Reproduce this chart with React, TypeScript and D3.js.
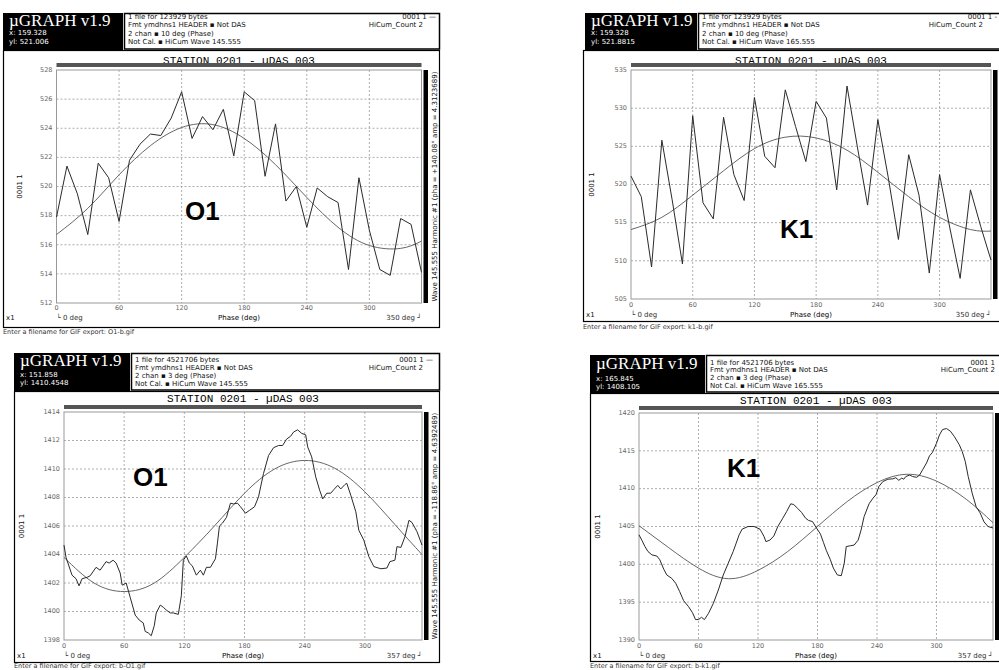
import React from "react";
import * as d3 from "d3";

// ---------------- Data ----------------
const phaseTop = [0, 10, 20, 30, 40, 50, 60, 70, 80, 90, 100, 110, 120, 130, 140, 150, 160, 170, 180, 190, 200, 210, 220, 230, 240, 250, 260, 270, 280, 290, 300, 310, 320, 330, 340, 350];
const o1TopValues = [517.9, 521.4, 519.5, 516.7, 521.6, 520.6, 517.6, 521.8, 522.9, 523.6, 523.5, 524.7, 526.5, 523.3, 524.8, 523.9, 525.3, 522.1, 526.5, 525.9, 520.7, 524.3, 519.0, 520.0, 517.2, 519.9, 519.3, 518.9, 514.3, 520.6, 517.0, 514.3, 513.9, 517.8, 517.4, 514.1];
const k1TopValues = [521.1, 518.4, 509.2, 525.8, 518.0, 509.6, 529.0, 517.6, 515.5, 528.8, 521.3, 517.9, 531.4, 523.7, 522.2, 532.4, 527.6, 523.0, 530.9, 528.7, 519.3, 532.9, 525.0, 517.3, 528.5, 521.0, 512.8, 523.9, 518.6, 508.4, 521.3, 514.3, 507.7, 519.3, 514.5, 510.1];

const fitPhaseTop = [0, 30, 60, 90, 120, 150, 180, 210, 240, 270, 300, 330, 350];
const o1TopFit = [516.7, 518.5, 520.8, 522.8, 524.05, 524.25, 523.3, 521.5, 519.25, 517.2, 515.95, 515.75, 516.25];
const k1TopFit = [514.1, 515.7, 518.6, 521.8, 524.7, 526.2, 526.1, 524.5, 521.6, 518.4, 515.7, 514.1, 513.9];

const o1BottomPhase = [0, 2, 8, 12, 15, 18, 23, 26, 32, 36, 42, 45, 49, 52, 56, 58, 62, 66, 71, 75, 79, 81, 84, 87, 90, 92, 96, 99, 102, 106, 109, 114, 117, 119, 122, 125, 128, 132, 136, 139, 142, 146, 151, 153, 155, 158, 162, 166, 169, 173, 176, 181, 185, 190, 194, 199, 204, 209, 214, 218, 222, 226, 229, 233, 237, 241, 243, 247, 251, 255, 258, 262, 266, 269, 273, 276, 280, 282, 286, 291, 294, 299, 304, 309, 316, 322, 325, 330, 332, 336, 340, 344, 347, 352, 357];
const o1BottomValues = [1404.66, 1403.8, 1402.55, 1402.3, 1401.8, 1402.3, 1402.4, 1402.5, 1403.1, 1402.9, 1403.5, 1403.4, 1403.6, 1403.4, 1402.7, 1401.85, 1402.0, 1401.0, 1399.75, 1399.4, 1399.2, 1398.6, 1398.5, 1398.3, 1399.0, 1399.9, 1400.45, 1400.3, 1400.1, 1399.9, 1399.9, 1399.8, 1401.1, 1403.6, 1403.9, 1403.4, 1403.2, 1402.55, 1402.9, 1402.55, 1403.1, 1403.1, 1403.7, 1404.8, 1406.0, 1406.2, 1406.6, 1407.6, 1407.55, 1407.6, 1407.35, 1406.9, 1407.1, 1407.35, 1408.05, 1409.7, 1410.95, 1411.5, 1411.65, 1411.65, 1412.1, 1412.3, 1412.6, 1412.75, 1412.5, 1412.4, 1411.55, 1410.85, 1409.45, 1408.5, 1407.9, 1408.3, 1408.3, 1408.55, 1408.85, 1408.6, 1408.9, 1409.0, 1408.15, 1407.0, 1405.7, 1405.0, 1403.85, 1403.15, 1403.0, 1403.05, 1403.5, 1403.6, 1404.55, 1404.5, 1405.25, 1406.4, 1406.25, 1405.6, 1404.66];

const k1BottomPhase = [0, 3, 6, 9, 13, 18, 21, 25, 28, 33, 37, 41, 45, 50, 54, 57, 60, 63, 66, 70, 75, 80, 85, 90, 95, 98, 101, 104, 110, 116, 122, 126, 128, 132, 136, 140, 145, 149, 153, 156, 160, 164, 168, 171, 175, 179, 183, 186, 189, 193, 196, 200, 204, 207, 209, 213, 217, 221, 224, 227, 232, 236, 239, 242, 246, 251, 256, 259, 262, 265, 267, 269, 273, 276, 280, 283, 286, 290, 293, 296, 300, 303, 306, 310, 314, 318, 323, 326, 329, 332, 336, 340, 344, 348, 352, 357];
const k1BottomValues = [1403.9, 1403.15, 1402.35, 1401.7, 1401.25, 1401.1, 1400.6, 1399.35, 1398.6, 1398.15, 1397.5, 1396.4, 1395.2, 1394.4, 1393.6, 1392.7, 1392.7, 1393.0, 1392.7, 1393.5, 1394.85, 1396.6, 1398.6, 1400.15, 1401.7, 1402.8, 1403.9, 1404.65, 1405.0, 1405.0, 1404.65, 1403.7, 1403.0, 1403.2, 1403.75, 1405.0, 1406.1, 1407.0, 1408.0, 1407.9, 1407.4, 1406.85, 1406.1, 1405.8, 1405.65, 1404.8, 1404.0, 1402.9, 1401.8, 1400.6, 1399.5, 1398.6, 1398.5, 1400.15, 1402.35, 1402.45, 1402.55, 1403.2, 1404.55, 1406.3, 1408.0, 1408.75, 1409.2, 1410.3, 1410.95, 1411.25, 1411.3, 1411.45, 1411.1, 1411.4, 1411.25, 1411.6, 1411.8, 1411.6, 1411.5, 1411.8, 1412.5, 1413.4, 1414.35, 1414.8, 1416.0, 1417.1, 1417.8, 1417.95, 1417.6, 1416.9, 1415.8, 1414.9, 1413.6, 1411.6, 1409.4, 1407.6, 1406.8, 1405.6, 1405.0, 1404.8];

const fitPhaseBottom = [0, 30, 60, 90, 120, 150, 180, 210, 240, 270, 300, 330, 357];
const o1BottomFit = [1403.8, 1402.0, 1401.4, 1402.0, 1403.8, 1406.0, 1408.3, 1410.0, 1410.6, 1410.05, 1408.4, 1406.1, 1404.0];
const k1BottomFit = [1405.1, 1402.2, 1399.5, 1398.1, 1399.2, 1401.7, 1405.0, 1408.3, 1410.8, 1411.9, 1411.0, 1408.6, 1405.5];

const xTicks = [0, 60, 120, 180, 240, 300];
const yTicksO1Top = [512, 514, 516, 518, 520, 522, 524, 526, 528];
const yTicksK1Top = [505, 510, 515, 520, 525, 530, 535];
const yTicksO1Bottom = [1398, 1400, 1402, 1404, 1406, 1408, 1410, 1412, 1414];
const yTicksK1Bottom = [1390, 1395, 1400, 1405, 1410, 1415, 1420];

const SMALL = "'DejaVu Sans', sans-serif";
const MONO = "'Liberation Mono', 'DejaVu Sans Mono', monospace";

type PanelProps = {
  frameL: number; frameR: number; headT: number; headB: number; blackL: number; blackR: number; frameB: number;
  plotL: number; plotR: number; plotT: number; plotB: number;
  xEnd: number; yTicks: number[];
  phase: number[]; values: number[]; fitPhase: number[]; fit: number[];
  gBase: number; xBase: number; ylBase: number; infoBase: number; infoStep: number;
  xReadout: string; ylReadout: string; info: string[];
  right1: string; right1X: number; right2X: number;
  titleY: number; tickY: number; rowY: number; footerY: number; footer: string;
  big: string; bigX: number; bigY: number; yLabelX: number;
  harmonic?: string; harmonicX?: number;
};

function Panel(p: PanelProps) {
  const x = d3.scaleLinear().domain([0, p.xEnd]).range([p.plotL, p.plotR]);
  const y = d3.scaleLinear().domain([p.yTicks[0], p.yTicks[p.yTicks.length - 1]]).range([p.plotB, p.plotT]);
  const pts: [number, number][] = p.phase.map((d, i) => [d, p.values[i]]);
  const fitPts: [number, number][] = p.fitPhase.map((d, i) => [d, p.fit[i]]);
  const line = d3.line<[number, number]>().x((d) => x(d[0])).y((d) => y(d[1]));
  const fitLine = d3.line<[number, number]>().x((d) => x(d[0])).y((d) => y(d[1])).curve(d3.curveNatural);
  const cx = (p.plotL + p.plotR) / 2;
  const cy = (p.plotT + p.plotB) / 2;
  return (
    <g>
      {/* header */}
      <rect x={p.blackL} y={p.headT} width={p.blackR - p.blackL} height={p.headB - p.headT} fill="#000" />
      <rect x={p.blackR + 1.5} y={p.headT + 0.5} width={p.frameR - p.blackR - 2} height={p.headB - p.headT - 1.5} fill="#fff" stroke="#000" strokeWidth={1.5} />
      <text x={p.blackL + 6} y={p.gBase} fill="#fff" fontFamily="'Liberation Serif', 'DejaVu Serif', serif" fontSize={17}>µGRAPH v1.9</text>
      <text x={p.blackL + 6} y={p.xBase} fill="#fff" fontFamily={SMALL} fontSize={7}>{p.xReadout}</text>
      <text x={p.blackL + 6} y={p.ylBase} fill="#fff" fontFamily={SMALL} fontSize={7}>{p.ylReadout}</text>
      {p.info.map((t, i) => (
        <text key={i} x={p.blackR + 5} y={p.infoBase + i * p.infoStep} fontFamily={SMALL} fontSize={7} fill="#111">{t}</text>
      ))}
      <text x={p.right1X} y={p.infoBase} textAnchor="end" fontFamily={SMALL} fontSize={7} fill="#111">{p.right1}</text>
      <text x={p.right2X} y={p.infoBase + p.infoStep} textAnchor="end" fontFamily={SMALL} fontSize={7} fill="#111">HiCum_Count 2</text>

      {/* main frame */}
      <rect x={p.frameL + 0.5} y={p.headB + 0.5} width={p.frameR - p.frameL - 1} height={p.frameB - p.headB - 1} fill="#fff" stroke="#000" strokeWidth={1.2} />
      <text x={cx} y={p.titleY} textAnchor="middle" dominantBaseline="middle" fontFamily={MONO} fontSize={11} fill="#000">STATION 0201 - µDAS 003</text>
      <rect x={p.plotL} y={p.plotT - 7} width={p.plotR - p.plotL} height={4} fill="#555" />

      {/* grid */}
      {xTicks.filter((t) => t > 0).map((t) => (
        <line key={"gx" + t} x1={x(t)} x2={x(t)} y1={p.plotT} y2={p.plotB} stroke="#999" strokeWidth={0.8} strokeDasharray="2,2" />
      ))}
      {p.yTicks.slice(1, -1).map((t) => (
        <line key={"gy" + t} x1={p.plotL} x2={p.plotR} y1={y(t)} y2={y(t)} stroke="#999" strokeWidth={0.8} strokeDasharray="2,2" />
      ))}
      <rect x={p.plotL} y={p.plotT} width={p.plotR - p.plotL} height={p.plotB - p.plotT} fill="none" stroke="#999" strokeWidth={1} />

      {/* tick labels */}
      {p.yTicks.map((t) => (
        <text key={"ty" + t} x={p.plotL - 4} y={y(t)} textAnchor="end" dominantBaseline="middle" fontFamily={SMALL} fontSize={6.5} fill="#666">{t}</text>
      ))}
      {xTicks.map((t) => (
        <text key={"tx" + t} x={x(t)} y={p.tickY} textAnchor="middle" dominantBaseline="middle" fontFamily={SMALL} fontSize={6.5} fill="#666">{t}</text>
      ))}

      {/* series */}
      <path d={fitLine(fitPts) || ""} fill="none" stroke="#555" strokeWidth={0.9} />
      <path d={line(pts) || ""} fill="none" stroke="#2a2a2a" strokeWidth={1} strokeLinejoin="round" />

      {/* right black bar */}
      <rect x={p.plotR + 2} y={p.plotT} width={4.5} height={p.plotB - p.plotT} fill="#000" />
      {p.harmonic && (
        <text transform={`translate(${p.harmonicX},${cy}) rotate(-90)`} textAnchor="middle" dominantBaseline="middle" fontFamily={SMALL} fontSize={7} fill="#111">{p.harmonic}</text>
      )}

      {/* axis labels */}
      <text transform={`translate(${p.yLabelX},${cy}) rotate(-90)`} textAnchor="middle" dominantBaseline="middle" fontFamily={SMALL} fontSize={7} fill="#111">0001 1</text>
      <text x={p.frameL + 3} y={p.rowY} dominantBaseline="middle" fontFamily={SMALL} fontSize={7} fill="#111">x1</text>
      <text x={p.plotL} y={p.rowY} dominantBaseline="middle" fontFamily={SMALL} fontSize={7} fill="#333">└ 0 deg</text>
      <text x={cx} y={p.rowY} textAnchor="middle" dominantBaseline="middle" fontFamily={SMALL} fontSize={7} fill="#000">Phase (deg)</text>
      <text x={p.plotR} y={p.rowY} textAnchor="end" dominantBaseline="middle" fontFamily={SMALL} fontSize={7} fill="#333">{`${p.xEnd} deg ┘`}</text>

      {/* big label */}
      <text x={p.bigX} y={p.bigY} fontFamily="'Liberation Sans', Arial, sans-serif" fontWeight="bold" fontSize={26} fill="#000">{p.big}</text>

      {/* footer */}
      <text x={p.frameL} y={p.footerY} fontFamily={SMALL} fontSize={6.5} fill="#333">{p.footer}</text>
    </g>
  );
}

export default function App() {
  return (
    <svg width={999} height={670} style={{ position: "absolute", left: 0, top: 0, background: "#fff" }}>
      <rect x={0} y={0} width={999} height={670} fill="#fff" />
      <Panel
        frameL={3} frameR={440} headT={13} headB={50} blackL={3} blackR={123} frameB={328}
        plotL={56.5} plotR={421.5} plotT={70} plotB={303}
        xEnd={350} yTicks={yTicksO1Top}
        phase={phaseTop} values={o1TopValues} fitPhase={fitPhaseTop} fit={o1TopFit}
        gBase={25.5} xBase={35} ylBase={43.5} infoBase={19.3} infoStep={8.1}
        xReadout="x: 159.328" ylReadout="yl: 521.006"
        info={["1 file for 123929 bytes", "Fmt ymdhns1 HEADER ▪ Not DAS", "2 chan ▪ 10 deg (Phase)", "Not Cal. ▪ HiCum Wave 145.555"]}
        right1="0001 1 —" right1X={436} right2X={423}
        titleY={61} tickY={308} rowY={318} footerY={334} footer="Enter a filename for GIF export: O1-b.gif"
        big="O1" bigX={185} bigY={220} yLabelX={20}
        harmonic="Wave 145.555 Harmonic #1 (pha = +140.08° amp = 4.3123689)" harmonicX={435}
      />
      <Panel
        frameL={583} frameR={1012} headT={13} headB={50} blackL={585} blackR={697} frameB={322}
        plotL={631} plotR={991} plotT={70} plotB={299}
        xEnd={350} yTicks={yTicksK1Top}
        phase={phaseTop} values={k1TopValues} fitPhase={fitPhaseTop} fit={k1TopFit}
        gBase={25.5} xBase={35} ylBase={43.5} infoBase={19.3} infoStep={8.1}
        xReadout="x: 159.328" ylReadout="yl: 521.8815"
        info={["1 file for 123929 bytes", "Fmt ymdhns1 HEADER ▪ Not DAS", "2 chan ▪ 10 deg (Phase)", "Not Cal. ▪ HiCum Wave 165.555"]}
        right1="0001 1 -" right1X={997} right2X={983}
        titleY={61} tickY={305} rowY={315} footerY={329} footer="Enter a filename for GIF export: k1-b.gif"
        big="K1" bigX={780} bigY={238} yLabelX={592}
      />
      <Panel
        frameL={14} frameR={440} headT={353} headB={391} blackL={14} blackR={130} frameB={663}
        plotL={64} plotR={422} plotT={412} plotB={640}
        xEnd={357} yTicks={yTicksO1Bottom}
        phase={o1BottomPhase} values={o1BottomValues} fitPhase={fitPhaseBottom} fit={o1BottomFit}
        gBase={366} xBase={376.8} ylBase={385} infoBase={362} infoStep={7.9}
        xReadout="x: 151.858" ylReadout="yl: 1410.4548"
        info={["1 file for 4521706 bytes", "Fmt ymdhns1 HEADER ▪ Not DAS", "2 chan ▪ 3 deg (Phase)", "Not Cal. ▪ HiCum Wave 145.555"]}
        right1="0001 1 —" right1X={433} right2X={423}
        titleY={399.5} tickY={646} rowY={656} footerY={667.5} footer="Enter a filename for GIF export: b-O1.gif"
        big="O1" bigX={133} bigY={486} yLabelX={22}
        harmonic="Wave 145.555 Harmonic #1 (pha = -118.86° amp = 4.6392489)" harmonicX={435}
      />
      <Panel
        frameL={590} frameR={1012} headT={355} headB={393} blackL={590} blackR={705} frameB={662}
        plotL={639} plotR={993} plotT={413} plotB={640}
        xEnd={357} yTicks={yTicksK1Bottom}
        phase={k1BottomPhase} values={k1BottomValues} fitPhase={fitPhaseBottom} fit={k1BottomFit}
        gBase={369} xBase={380.5} ylBase={388.5} infoBase={364.5} infoStep={7.8}
        xReadout="x: 165.845" ylReadout="yl: 1408.105"
        info={["1 file for 4521706 bytes", "Fmt ymdhns1 HEADER ▪ Not DAS", "2 chan ▪ 3 deg (Phase)", "Not Cal. ▪ HiCum Wave 165.555"]}
        right1="0001 1" right1X={995} right2X={995}
        titleY={401.5} tickY={646} rowY={656} footerY={667.5} footer="Enter a filename for GIF export: b-k1.gif"
        big="K1" bigX={727} bigY={477} yLabelX={598}
      />
    </svg>
  );
}
